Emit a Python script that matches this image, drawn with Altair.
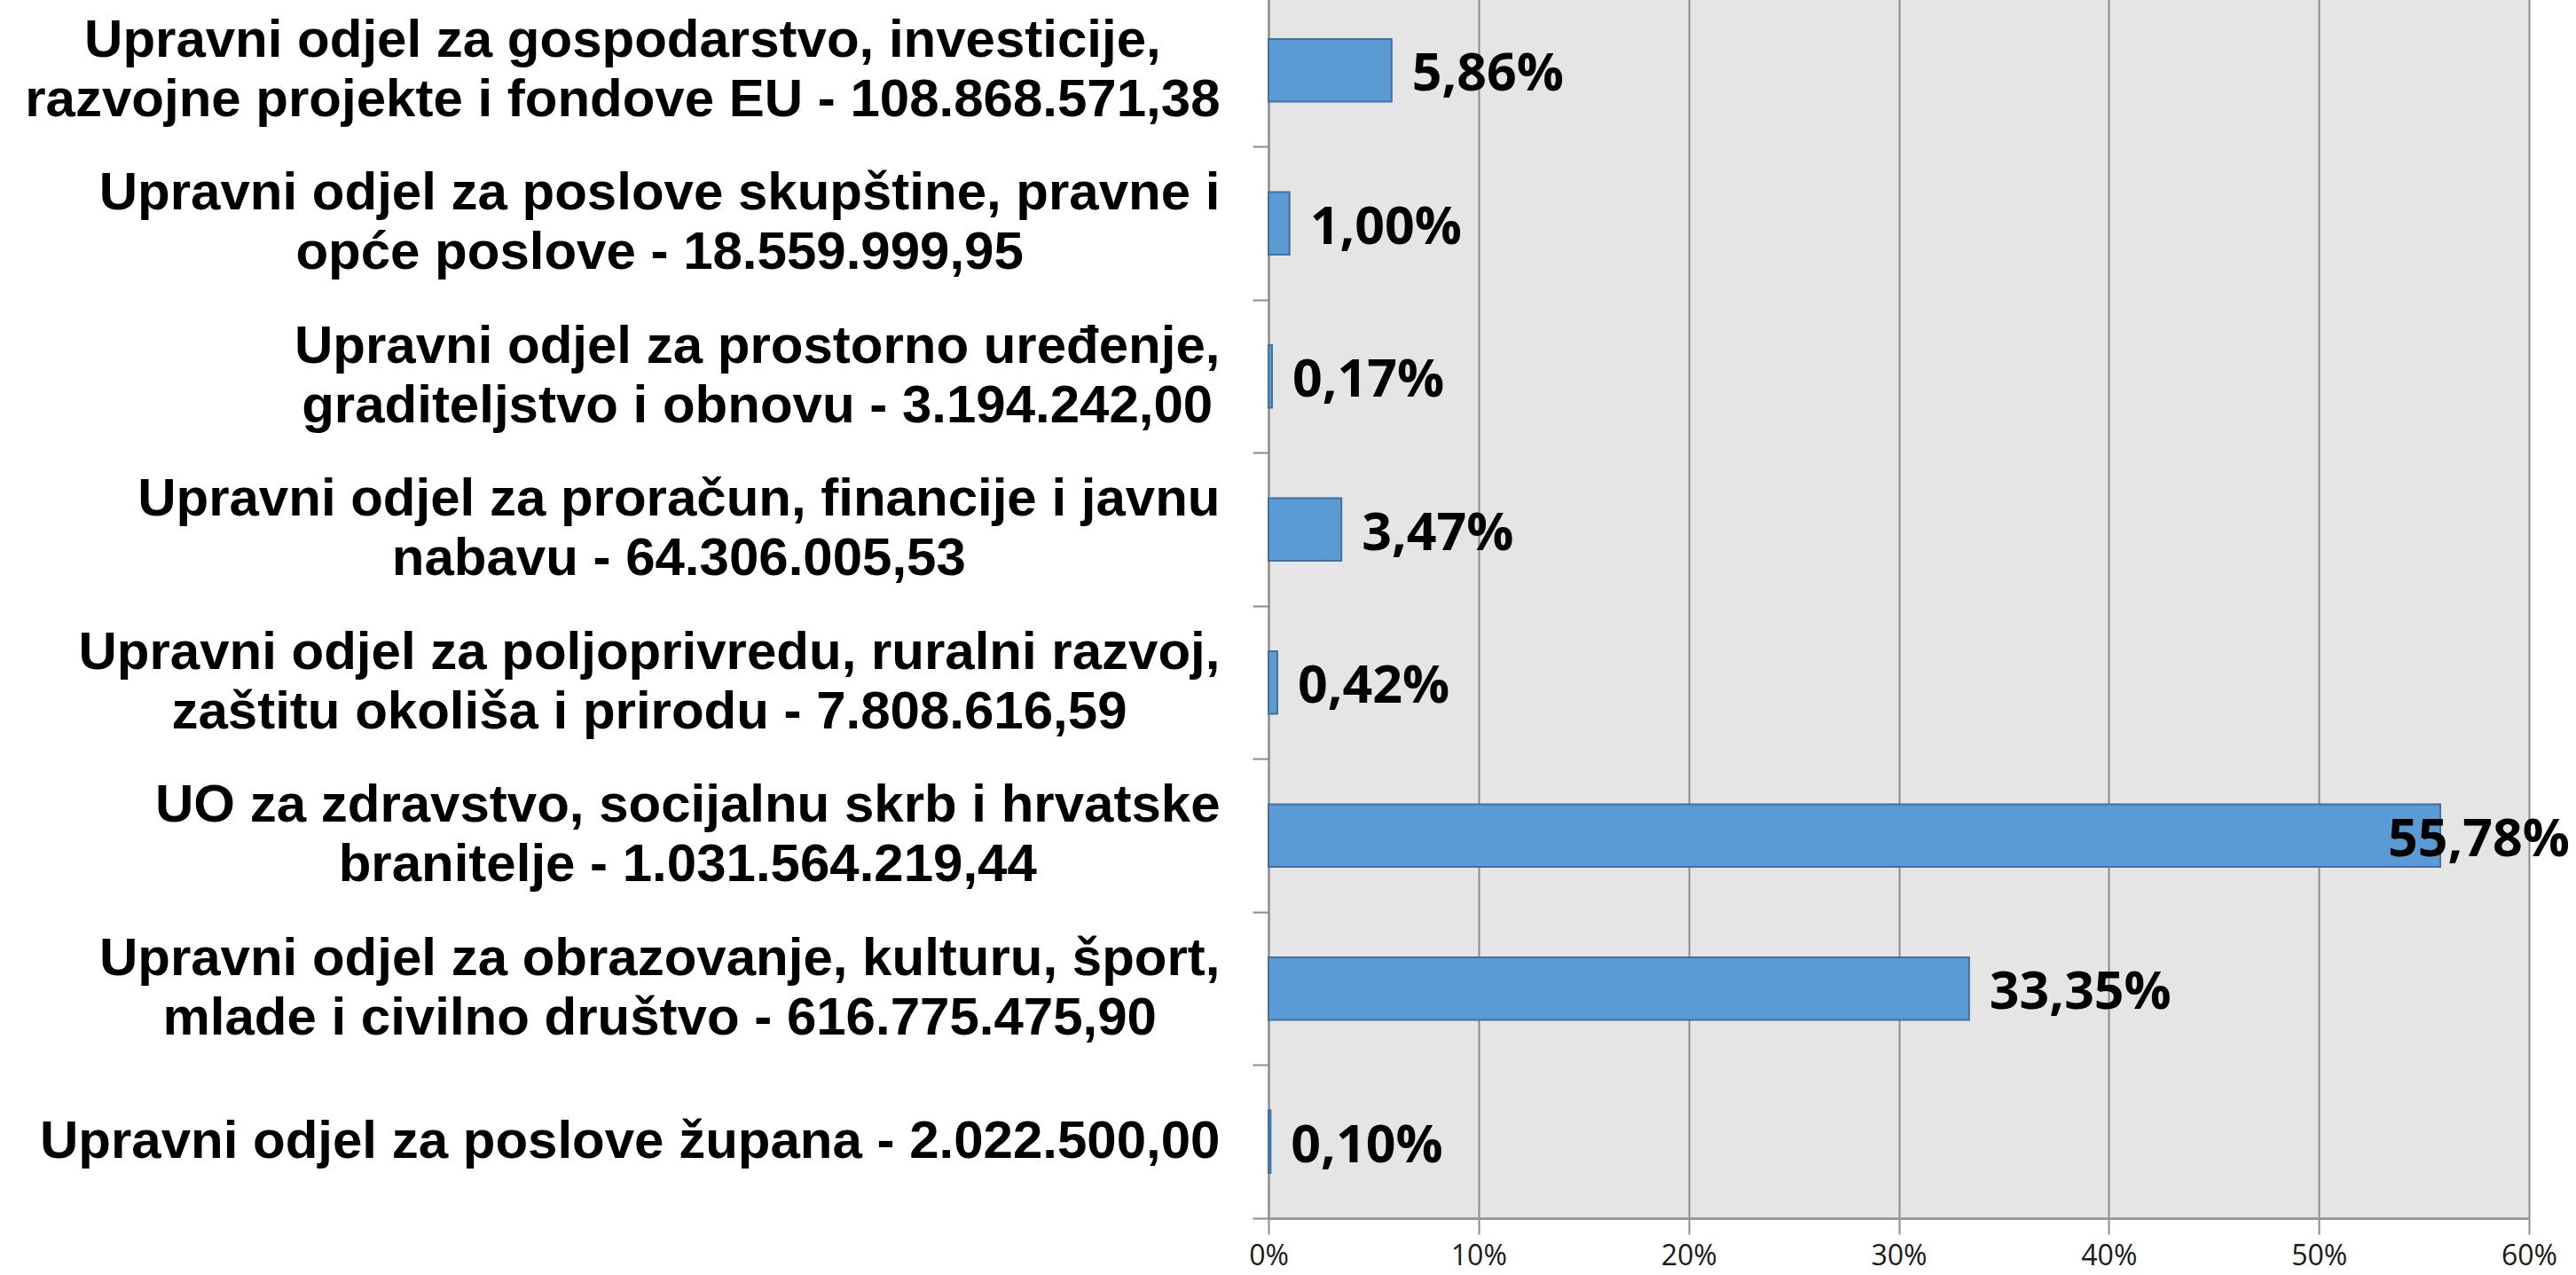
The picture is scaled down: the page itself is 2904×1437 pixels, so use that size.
import json
import altair as alt
import pandas as pd

# ---- data ----
line1 = [
    "Upravni odjel za gospodarstvo, investicije,",
    "Upravni odjel za poslove skupštine, pravne i",
    "Upravni odjel za prostorno uređenje,",
    "Upravni odjel za proračun, financije i javnu",
    "Upravni odjel za poljoprivredu, ruralni razvoj,",
    "UO za zdravstvo, socijalnu skrb i hrvatske",
    "Upravni odjel za obrazovanje, kulturu, šport,",
    "Upravni odjel za poslove župana",
]
line2 = [
    "razvojne projekte i fondove EU",
    "opće poslove",
    "graditeljstvo i obnovu",
    "nabavu",
    "zaštitu okoliša i prirodu",
    "branitelje",
    "mlade i civilno društvo",
    "",
]
amounts = [
    "108.868.571,38",
    "18.559.999,95",
    "3.194.242,00",
    "64.306.005,53",
    "7.808.616,59",
    "1.031.564.219,44",
    "616.775.475,90",
    "2.022.500,00",
]
shares = [5.86, 1.00, 0.17, 3.47, 0.42, 55.78, 33.35, 0.10]
x_ticks = [0, 10, 20, 30, 40, 50, 60]

# ---- build category labels ----
labels = []
for a, b, amt in zip(line1, line2, amounts):
    if b:
        labels.append(f"{a}\n{b} - {amt}")
    else:
        labels.append(f"{a} - {amt}")

df = pd.DataFrame({
    "dept": labels,
    "share": shares,
    "txt": [f"{v:.2f}".replace(".", ",") + "%" for v in shares],
})

# ---- approximate label widths (Arial/Liberation Sans Bold metrics) to centre lines ----
W = {" ": 278, ",": 278, "-": 333, ".": 278, "E": 667, "U": 722, "O": 778,
     "a": 556, "b": 611, "c": 556, "d": 611, "e": 556, "f": 333, "g": 611, "h": 611,
     "i": 278, "j": 278, "k": 556, "l": 278, "m": 889, "n": 611, "o": 611, "p": 611,
     "q": 611, "r": 389, "s": 556, "t": 333, "u": 611, "v": 556, "w": 778, "x": 556,
     "y": 556, "z": 500, "š": 556, "ž": 500, "č": 556, "ć": 556, "đ": 611}
LABEL_SIZE = 60
LINE_H = 67


def width(s):
    return sum(W.get(ch, 556) for ch in s) * LABEL_SIZE / 1000.0


GAP = 55      # distance from label block right edge to axis
TICK = 18
pad_conds = []
off_conds = []
for lab in labels:
    parts = lab.split("\n")
    w = max(width(part) for part in parts)
    test = "datum.value == " + json.dumps(lab)
    pad_conds.append({"test": test, "value": GAP - TICK + w / 2})
    off_conds.append({"test": test, "value": -(len(parts) - 1) * LINE_H / 2})

y_enc = alt.Y(
    "dept:N",
    sort=labels,
    scale=alt.Scale(paddingInner=0, paddingOuter=0),
    axis=alt.Axis(
        title=None,
        bandPosition=1,
        tickExtra=True,
        tickSize=TICK,
        tickColor="#8c8c8c",
        tickWidth=2,
        domainColor="#8c8c8c",
        domainWidth=2,
        labelExpr="split(datum.label, '\\n')",
        labelAlign="center",
        labelBaseline="middle",
        labelOffset={"condition": off_conds, "value": 0},
        labelPadding={"condition": pad_conds, "value": 60},
        labelFont="Liberation Sans",
        labelFontWeight="bold",
        labelFontSize=LABEL_SIZE,
        labelLineHeight=LINE_H,
        labelColor="#000000",
        labelLimit=0,
        grid=False,
    ),
)

x_enc = alt.X(
    "share:Q",
    scale=alt.Scale(domain=[0, 60], nice=False, zero=True),
    axis=alt.Axis(
        title=None,
        values=x_ticks,
        labelExpr="datum.value + '%'",
        labelFlush=False,
        labelFont="Open Sans",
        labelFontSize=32,
        labelColor="#1a1a1a",
        labelPadding=9,
        tickSize=18,
        tickColor="#8c8c8c",
        tickWidth=2,
        domainColor="#999999",
        domainWidth=3,
        grid=True,
        gridColor="#8c8c8c",
        gridWidth=2,
    ),
)

bars = alt.Chart(df).mark_bar(
    height={"band": 0.41},
    color="#5B9BD5",
    stroke="#41719C",
    strokeWidth=2,
).encode(x=x_enc, y=y_enc)

text_style = dict(font="Open Sans", fontWeight="bold", fontSize=59, color="#000000",
                  align="left", baseline="middle", dy=5)

labels_out = alt.Chart(df).transform_filter("datum.share <= 50").mark_text(
    dx=23, **text_style
).encode(x="share:Q", y=alt.Y("dept:N", sort=labels), text="txt:N")

labels_in = alt.Chart(df).transform_filter("datum.share > 50").mark_text(
    dx=-59, **text_style
).encode(x="share:Q", y=alt.Y("dept:N", sort=labels), text="txt:N")

chart = alt.layer(bars, labels_out, labels_in).properties(
    width=1421,
    height=1380,
    autosize=alt.AutoSizeParams(type="none"),
    padding={"left": 1430, "right": 53, "top": -7, "bottom": 64},
    background="#ffffff",
).configure_view(fill="#E5E5E5", strokeWidth=0)

chart.save("out.html", embed_options={"renderer": "svg", "actions": False})
